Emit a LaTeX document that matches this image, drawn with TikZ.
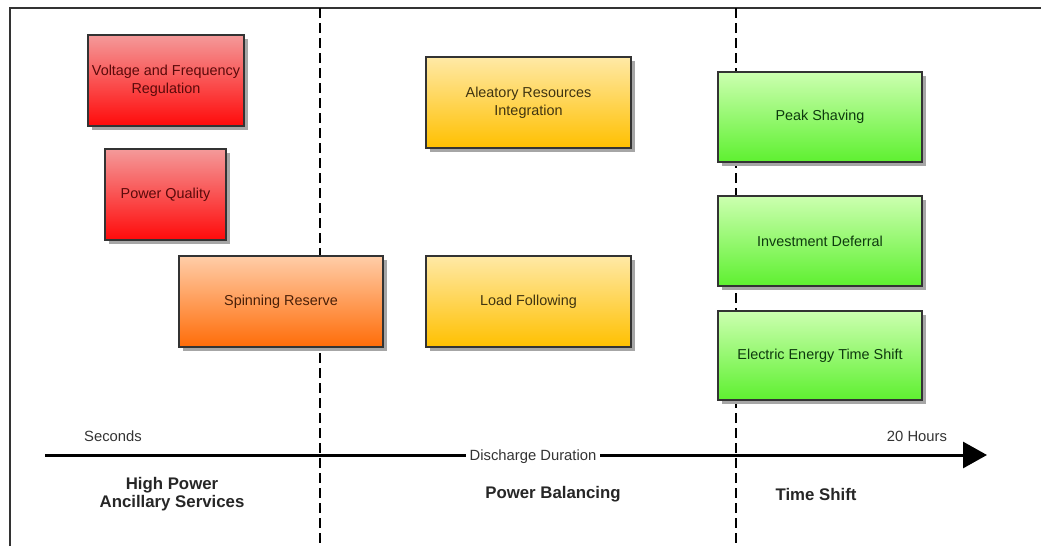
\documentclass[tikz,border=0pt]{standalone}
\usepackage{fontspec}
\setmainfont{Liberation Sans}
\usetikzlibrary{shadows,arrows.meta}
\definecolor{framec}{HTML}{333333}
\definecolor{redtop}{HTML}{F49A9A}
\definecolor{redbot}{HTML}{FF0A0A}
\definecolor{redtxt}{HTML}{5A0A0A}
\definecolor{ortop}{HTML}{FFCDA8}
\definecolor{orbot}{HTML}{FF6C08}
\definecolor{ortxt}{HTML}{4A2008}
\definecolor{yetop}{HTML}{FFE9A6}
\definecolor{yebot}{HTML}{FFC000}
\definecolor{yetxt}{HTML}{403410}
\definecolor{grtop}{HTML}{CCFFB0}
\definecolor{grbot}{HTML}{5EF030}
\definecolor{grtxt}{HTML}{0E3A0E}
\definecolor{lbltxt}{HTML}{333333}
\begin{document}
\begin{tikzpicture}[x=1pt,y=-1pt,
  box/.style={draw=framec, line width=1.6pt, inner sep=0pt, align=center,
    font=\fontsize{14.4}{18}\selectfont,
    general shadow={fill=black!35, shadow xshift=4pt, shadow yshift=-4pt}},
  redbox/.style={box, top color=redtop, bottom color=redbot, text=redtxt},
  orbox/.style={box, top color=ortop, bottom color=orbot, text=ortxt},
  yebox/.style={box, top color=yetop, bottom color=yebot, text=yetxt},
  grbox/.style={box, top color=grtop, bottom color=grbot, text=grtxt},
  divider/.style={line width=1.8pt, dash pattern=on 10pt off 5pt},
  small/.style={font=\fontsize{14.8}{17}\selectfont, text=lbltxt},
  head/.style={font=\bfseries\fontsize{16.8}{18.5}\selectfont, text=black!85, align=center}
]
\useasboundingbox (0,0) rectangle (1041,546);
% frame
\coordinate (f1) at (10,546);
\coordinate (f2) at (10,8);
\coordinate (f3) at (1041,8);
\draw[framec, line width=1.8pt] (f1) -- (f2) -- (f3);
% dividers
\coordinate (d1t) at (320,8);
\coordinate (d1b) at (320,546);
\coordinate (d2t) at (736,8);
\coordinate (d2b) at (736,546);
\draw[divider] (d1t) -- (d1b);
\draw[divider] (d2t) -- (d2b);
% boxes
\node[redbox, minimum width=156pt, minimum height=91pt] (vfr) at (166,80.5) {Voltage and Frequency\\Regulation};
\node[redbox, minimum width=121pt, minimum height=91pt] (pq) at (165.5,194.5) {Power Quality};
\node[orbox, minimum width=204pt, minimum height=91pt] (sr) at (281,301.5) {Spinning Reserve};
\node[yebox, minimum width=205pt, minimum height=91pt] (ari) at (528.5,102.5) {Aleatory Resources\\Integration};
\node[yebox, minimum width=205pt, minimum height=91pt] (lf) at (528.5,301.5) {Load Following};
\node[grbox, minimum width=204pt, minimum height=90pt] (ps) at (820,117) {Peak Shaving};
\node[grbox, minimum width=204pt, minimum height=90pt] (id) at (820,241) {Investment Deferral};
\node[grbox, minimum width=204pt, minimum height=89pt] (eets) at (820,355.5) {Electric Energy Time Shift};
% axis
\coordinate (a0) at (45,455);
\coordinate (a1) at (987,455);
\draw[line width=3pt, -{Triangle[length=24pt, width=26pt]}] (a0) -- (a1);
\node[small, fill=white, inner xsep=4pt, inner ysep=2pt] (dd) at (533,457) {Discharge Duration};
\node[small] (sec) at (113,436) {Seconds};
\node[small] (hrs) at (917,436) {20 Hours};
% categories
\node[head] (hp) at (172,494) {High Power\\Ancillary Services};
\node[head] (pb) at (553,494) {Power Balancing};
\node[head] (ts) at (816,494) {Time Shift};
\end{tikzpicture}
\end{document}
